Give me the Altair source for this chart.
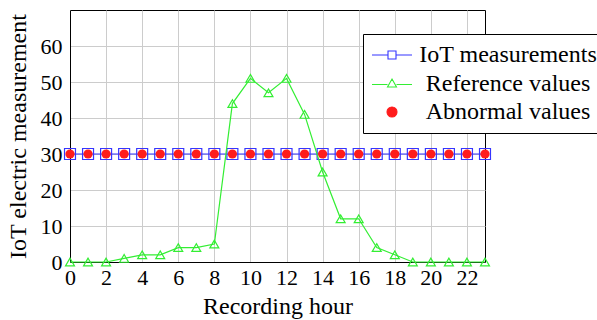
import altair as alt
import pandas as pd

# ---- data ----
hours = [0, 1, 2, 3, 4, 5, 6, 7, 8, 9, 10, 11, 12, 13, 14, 15, 16, 17, 18, 19, 20, 21, 22, 23]
iot_values = [30, 30, 30, 30, 30, 30, 30, 30, 30, 30, 30, 30, 30, 30, 30, 30, 30, 30, 30, 30, 30, 30, 30, 30]
reference_values = [0, 0, 0, 1, 2, 2, 4, 4, 5, 44, 51, 47, 51, 41, 25, 12, 12, 4, 2, 0, 0, 0, 0, 0]
abnormal_values = [30, 30, 30, 30, 30, 30, 30, 30, 30, 30, 30, 30, 30, 30, 30, 30, 30, 30, 30, 30, 30, 30, 30, 30]
series_names = ["IoT measurements", "Reference values", "Abnormal values"]
x_ticks = [0, 2, 4, 6, 8, 10, 12, 14, 16, 18, 20, 22]
y_ticks = [0, 10, 20, 30, 40, 50, 60]

rows = []
for name, vals in zip(series_names, [iot_values, reference_values, abnormal_values]):
    for h, v in zip(hours, vals):
        rows.append({"hour": h, "value": v, "series": name})
df = pd.DataFrame(rows)

FONT = "Liberation Serif"
BLUE = "#3535ff"
GREEN = "#33ee33"
RED = "#ff1c1c"

x_enc = alt.X(
    "hour:Q",
    scale=alt.Scale(domain=[0, 23], nice=False, zero=False),
    axis=alt.Axis(values=x_ticks, title="Recording hour", ticks=False, labelPadding=5,
                  labelFlush=False, titlePadding=6, labelFontSize=22, titleFontSize=24),
)
y_enc = alt.Y(
    "value:Q",
    scale=alt.Scale(domain=[0, 70], nice=False),
    axis=alt.Axis(values=y_ticks, title="IoT electric measurement", ticks=False, labelPadding=8,
                  labelFlush=False, titlePadding=10, labelFontSize=22, titleFontSize=24),
)

base = alt.Chart(df)


def only(name):
    return alt.datum.series == name


iot_line = base.transform_filter(only(series_names[0])).mark_line(color=BLUE, strokeWidth=1.2).encode(x=x_enc, y=y_enc)
iot_pts = base.transform_filter(only(series_names[0])).mark_point(
    shape="square", filled=False, color=BLUE, size=120, strokeWidth=1.2, opacity=1
).encode(x=x_enc, y=y_enc)
ref_line = base.transform_filter(only(series_names[1])).mark_line(color=GREEN, strokeWidth=1.2).encode(x=x_enc, y=y_enc)
ref_pts = base.transform_filter(only(series_names[1])).mark_point(
    shape="triangle-up", filled=False, color=GREEN, size=80, strokeWidth=1.2, opacity=1
).encode(x=x_enc, y=y_enc)
abn_pts = base.transform_filter(only(series_names[2])).mark_circle(
    color=RED, size=85, opacity=1
).encode(x=x_enc, y=y_enc)

# legend symbols: line sample + marker (custom SVG paths in unit coordinates)
sq_path = "M-2,0L-0.4,0M0.4,0L2,0M-0.4,-0.4L0.4,-0.4L0.4,0.4L-0.4,0.4Z"
tri_path = "M-2,0.1L-0.45,0.1M0.45,0.1L2,0.1M0,-0.45L0.45,0.35L-0.45,0.35Z"
circ_path = "M-0.5,0A0.5,0.5 0 1,0 0.5,0A0.5,0.5 0 1,0 -0.5,0Z"

leg = alt.Legend(
    title=None, orient="none", legendX=293, legendY=24, padding=9,
    rowPadding=4.5, symbolSize=400, symbolOffset=8, symbolStrokeWidth=1.1, symbolOpacity=1,
    labelFont=FONT, labelFontSize=24, labelColor="black", labelAlign="center",
    labelOffset=104, labelLimit=400, strokeColor="black", fillColor="white", cornerRadius=0,
    direction="vertical",
)

legend_layer = base.mark_point(opacity=0, size=400, filled=False).encode(
    x=x_enc,
    y=y_enc,
    shape=alt.Shape("series:N", scale=alt.Scale(domain=series_names, range=[sq_path, tri_path, circ_path]), legend=leg),
    stroke=alt.Stroke("series:N", scale=alt.Scale(domain=series_names, range=[BLUE, GREEN, RED]), legend=leg),
    fill=alt.Fill("series:N", scale=alt.Scale(domain=series_names, range=["white", "white", RED]), legend=leg),
)

chart = (
    alt.layer(iot_line, iot_pts, ref_line, ref_pts, abn_pts, legend_layer)
    .properties(
        width=415,
        height=252,
        padding={"left": 70, "top": 10, "right": 112, "bottom": 58},
        autosize=alt.AutoSizeParams(type="none"),
        background="white",
    )
    .configure_axis(
        labelFont=FONT, titleFont=FONT, labelColor="black", titleColor="black",
        titleFontWeight="normal", gridColor="#cccccc", gridWidth=1,
        domainColor="black", domainWidth=1,
    )
    .configure_view(stroke="black", strokeWidth=1)
)

chart.save("out.html", embed_options={"renderer": "svg", "actions": False})
